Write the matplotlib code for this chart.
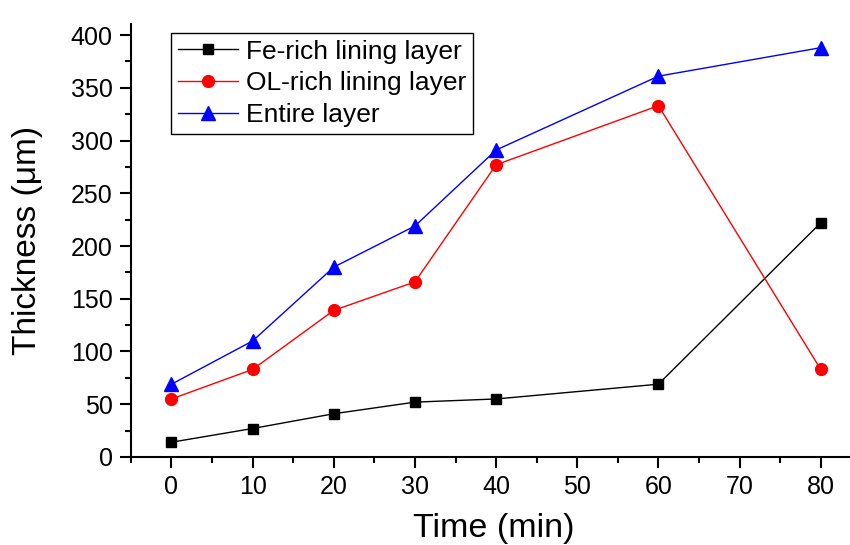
import matplotlib.pyplot as plt
from matplotlib.ticker import MultipleLocator

plt.rcParams['font.family'] = ['Liberation Sans', 'DejaVu Sans']

time = [0, 10, 20, 30, 40, 60, 80]
fe_rich = [14, 27, 41, 52, 55, 69, 222]
ol_rich = [55, 83, 139, 166, 277, 333, 83]
entire = [69, 110, 180, 219, 291, 361, 388]

fig = plt.figure(figsize=(8.5, 5.45), dpi=100)
ax = fig.add_axes([0.154, 0.1615, 0.845, 0.7936])

ax.plot(time, fe_rich, color='black', lw=1, marker='s', ms=7.5, label='Fe-rich lining layer')
ax.plot(time, ol_rich, color='red', lw=1, marker='o', ms=8.5, label='OL-rich lining layer')
ax.plot(time, entire, color='blue', lw=1, marker='^', ms=9.5, label='Entire layer')

ax.set_xlim(-5, 83.5)
ax.set_ylim(0, 410)
ax.xaxis.set_major_locator(MultipleLocator(10))
ax.xaxis.set_minor_locator(MultipleLocator(5))
ax.yaxis.set_major_locator(MultipleLocator(50))
ax.yaxis.set_minor_locator(MultipleLocator(25))
ax.tick_params(which='major', direction='out', length=8, width=1.5, labelsize=18, pad=5)
ax.tick_params(which='minor', direction='out', length=4.5, width=1.5)
for s in ['top', 'right']:
    ax.spines[s].set_visible(False)
for s in ['left', 'bottom']:
    ax.spines[s].set_linewidth(1.5)

ax.set_xlabel('Time (min)', fontsize=24.5, labelpad=10)
ax.xaxis.label.set_x(0.5055)
ax.set_ylabel('Thickness (\u03bcm)', fontsize=24, labelpad=20)

leg = ax.legend(loc='upper left', bbox_to_anchor=(0.0557, 0.98), fontsize=19,
                fancybox=False, edgecolor='black', framealpha=1,
                handlelength=2.3, borderpad=0.25, labelspacing=0.29, handletextpad=0.3,
                borderaxespad=0)
leg.get_frame().set_linewidth(1)

fig.savefig('out.png', dpi=100)
